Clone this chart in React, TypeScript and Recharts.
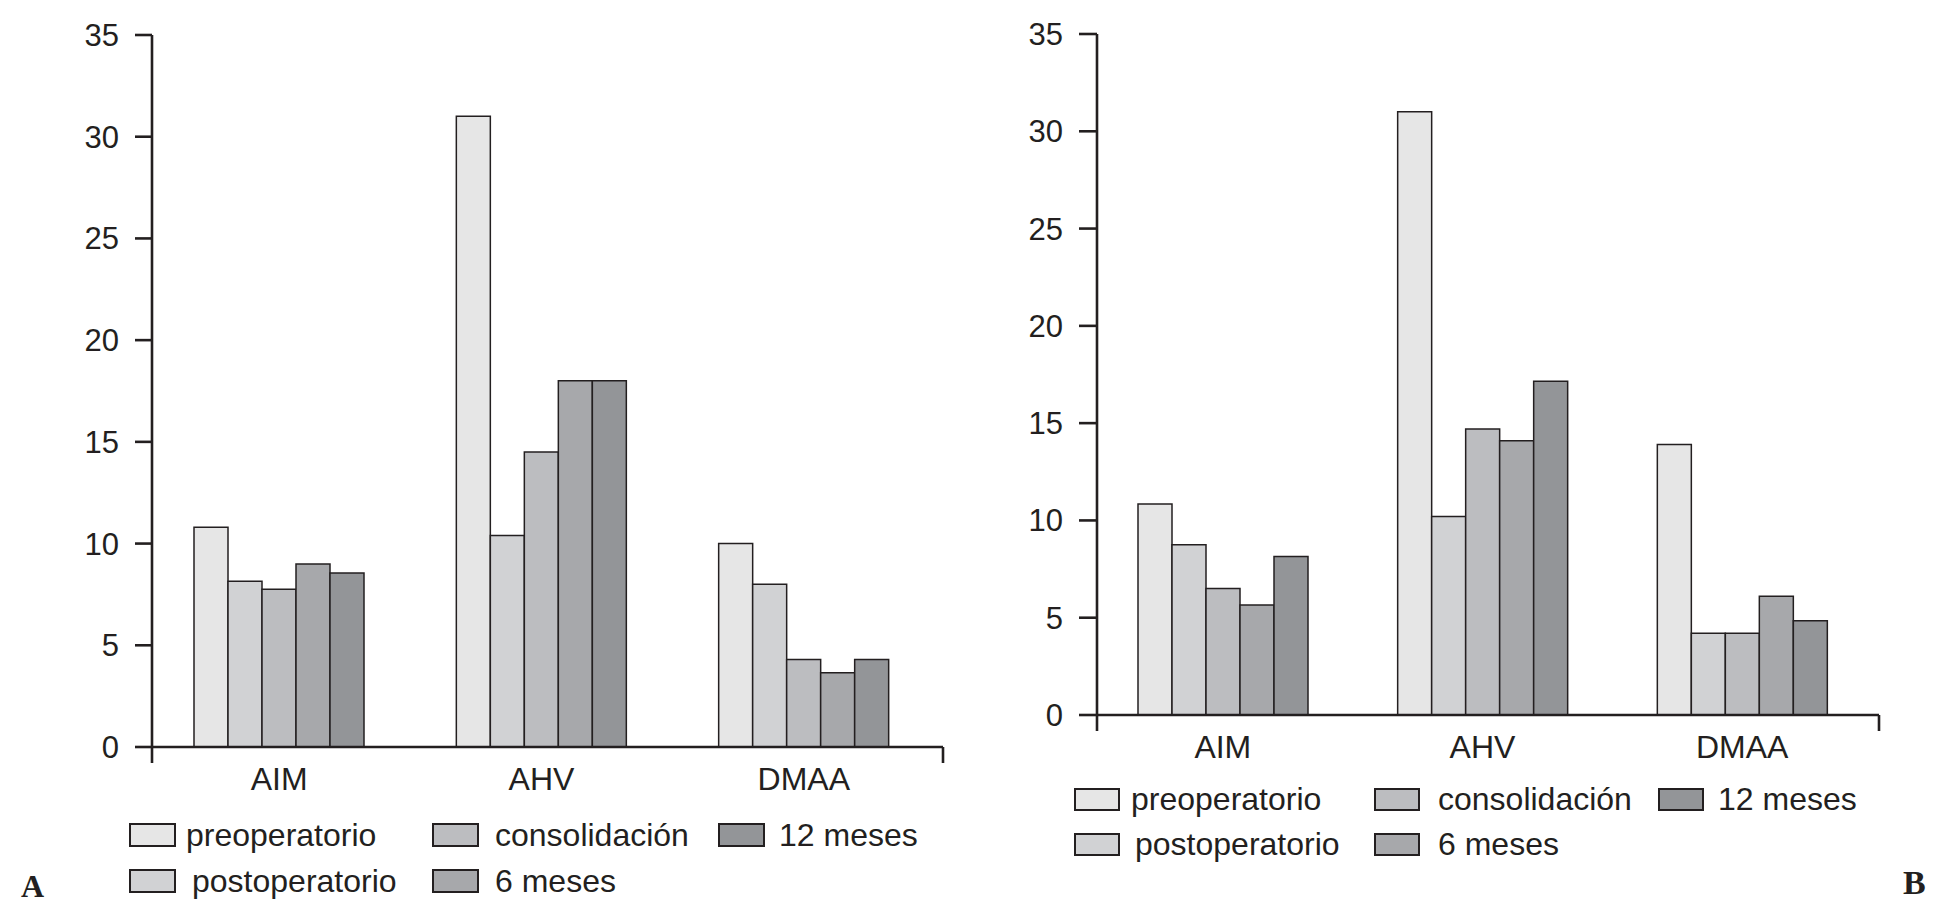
import React from 'react';
import { Bar, BarChart, XAxis, YAxis, usePlotArea } from 'recharts';

const categories = ['AIM', 'AHV', 'DMAA'];
const seriesNames = ['preoperatorio', 'postoperatorio', 'consolidación', '6 meses', '12 meses'];
const yTicks = [0, 5, 10, 15, 20, 25, 30, 35];

// panel A
const preopA = [10.8, 31, 10];
const postopA = [8.15, 10.4, 8];
const consolA = [7.75, 14.5, 4.3];
const sixA = [9, 18, 3.65];
const twelveA = [8.55, 18, 4.3];

// panel B
const preopB = [10.85, 31, 13.9];
const postopB = [8.75, 10.2, 4.2];
const consolB = [6.5, 14.7, 4.2];
const sixB = [5.65, 14.1, 6.1];
const twelveB = [8.15, 17.15, 4.85];

const KEYS = ['preop', 'postop', 'consol', 'six', 'twelve'];
const FILLS = ['#e6e6e6', '#d1d2d4', '#bcbdc0', '#a7a8ab', '#939598'];
const INK = '#231f20';
const FONT = '"Liberation Sans", Arial, Helvetica, sans-serif';
const SERIF = '"Liberation Serif", "Times New Roman", serif';

function buildRows(series: number[][]) {
  return categories.map((name, i) => {
    const row: Record<string, string | number> = { name };
    series.forEach((values, s) => {
      row[KEYS[s]] = values[i];
    });
    return row;
  });
}

const rowsA = buildRows([preopA, postopA, consolA, sixA, twelveA]);
const rowsB = buildRows([preopB, postopB, consolB, sixB, twelveB]);

// little ticks hanging under both ends of the x axis
function EdgeTicks({ length }: { length: number }) {
  const area = usePlotArea();
  if (!area) return null;
  const bottom = area.y + area.height;
  return (
    <g>
      <line x1={area.x} y1={bottom} x2={area.x} y2={bottom + length} stroke={INK} strokeWidth={2.6} />
      <line
        x1={area.x + area.width}
        y1={bottom}
        x2={area.x + area.width}
        y2={bottom + length}
        stroke={INK}
        strokeWidth={2.6}
      />
    </g>
  );
}

interface LegendLayout {
  colX: number[];
  rowTop: number[];
  textLeft: number[];
  swatchW: number;
  swatchH: number;
}

function PanelLegend({ layout }: { layout: LegendLayout }) {
  return (
    <>
      {seriesNames.map((name, i) => {
        const col = Math.floor(i / 2);
        const row = i % 2;
        const top = layout.rowTop[row];
        return (
          <React.Fragment key={name}>
            <div
              style={{
                position: 'absolute',
                left: layout.colX[col],
                top,
                width: layout.swatchW,
                height: layout.swatchH,
                boxSizing: 'border-box',
                border: `2px solid ${INK}`,
                background: FILLS[i],
              }}
            />
            <div
              style={{
                position: 'absolute',
                left: layout.textLeft[i],
                top,
                height: layout.swatchH,
                lineHeight: `${layout.swatchH}px`,
                fontFamily: FONT,
                fontSize: 32,
                color: INK,
                whiteSpace: 'nowrap',
              }}
            >
              {name}
            </div>
          </React.Fragment>
        );
      })}
    </>
  );
}

interface PanelProps {
  data: Record<string, string | number>[];
  left: number;
  margin: { top: number; right: number; bottom: number; left: number };
  padding: { left: number; right: number };
  tickSize: number;
}

function Panel({ data, left, margin, padding, tickSize }: PanelProps) {
  return (
    <div style={{ position: 'absolute', left, top: 0 }}>
      <BarChart width={960} height={800} data={data} margin={margin} barSize={34} barGap={0}>
        <XAxis
          dataKey="name"
          height={50}
          padding={padding}
          axisLine={{ stroke: INK, strokeWidth: 2.6 }}
          tickLine={false}
          tickSize={6}
          tickMargin={14}
          tick={{ fontSize: 32, fill: INK, fontFamily: FONT }}
        />
        <YAxis
          width={60}
          domain={[0, 35]}
          ticks={yTicks}
          interval={0}
          axisLine={{ stroke: INK, strokeWidth: 2.6 }}
          tickLine={{ stroke: INK, strokeWidth: 2.6 }}
          tickSize={tickSize}
          tickMargin={16}
          tick={{ fontSize: 31, fill: INK, fontFamily: FONT }}
        />
        {KEYS.map((key, i) => (
          <Bar
            key={key}
            dataKey={key}
            name={seriesNames[i]}
            fill={FILLS[i]}
            stroke={INK}
            strokeWidth={1.5}
            isAnimationActive={false}
          />
        ))}
        <EdgeTicks length={16} />
      </BarChart>
    </div>
  );
}

export default function App() {
  return (
    <div style={{ position: 'relative', width: 1935, height: 908, background: '#fff', overflow: 'hidden' }}>
      <style>{'body{margin:0;background:#fff}'}</style>
      <Panel
        data={rowsA}
        left={0}
        margin={{ top: 35, right: 17, bottom: 3, left: 92 }}
        padding={{ left: -4, right: 8 }}
        tickSize={17}
      />
      <Panel
        data={rowsB}
        left={975}
        margin={{ top: 34, right: 56, bottom: 35, left: 62 }}
        padding={{ left: -4, right: 7 }}
        tickSize={18}
      />
      <PanelLegend
        layout={{
          colX: [129, 432, 718],
          rowTop: [823, 869],
          textLeft: [186, 192, 495, 495, 779],
          swatchW: 47,
          swatchH: 24,
        }}
      />
      <PanelLegend
        layout={{
          colX: [1074, 1374, 1658],
          rowTop: [788, 833],
          textLeft: [1131, 1135, 1438, 1438, 1718],
          swatchW: 46,
          swatchH: 23,
        }}
      />
      <div
        style={{
          position: 'absolute',
          left: 21,
          top: 870,
          fontFamily: SERIF,
          fontWeight: 'bold',
          fontSize: 32,
          lineHeight: '32px',
          color: INK,
        }}
      >
        A
      </div>
      <div
        style={{
          position: 'absolute',
          left: 1903,
          top: 866,
          fontFamily: SERIF,
          fontWeight: 'bold',
          fontSize: 34,
          lineHeight: '34px',
          color: INK,
        }}
      >
        B
      </div>
    </div>
  );
}
